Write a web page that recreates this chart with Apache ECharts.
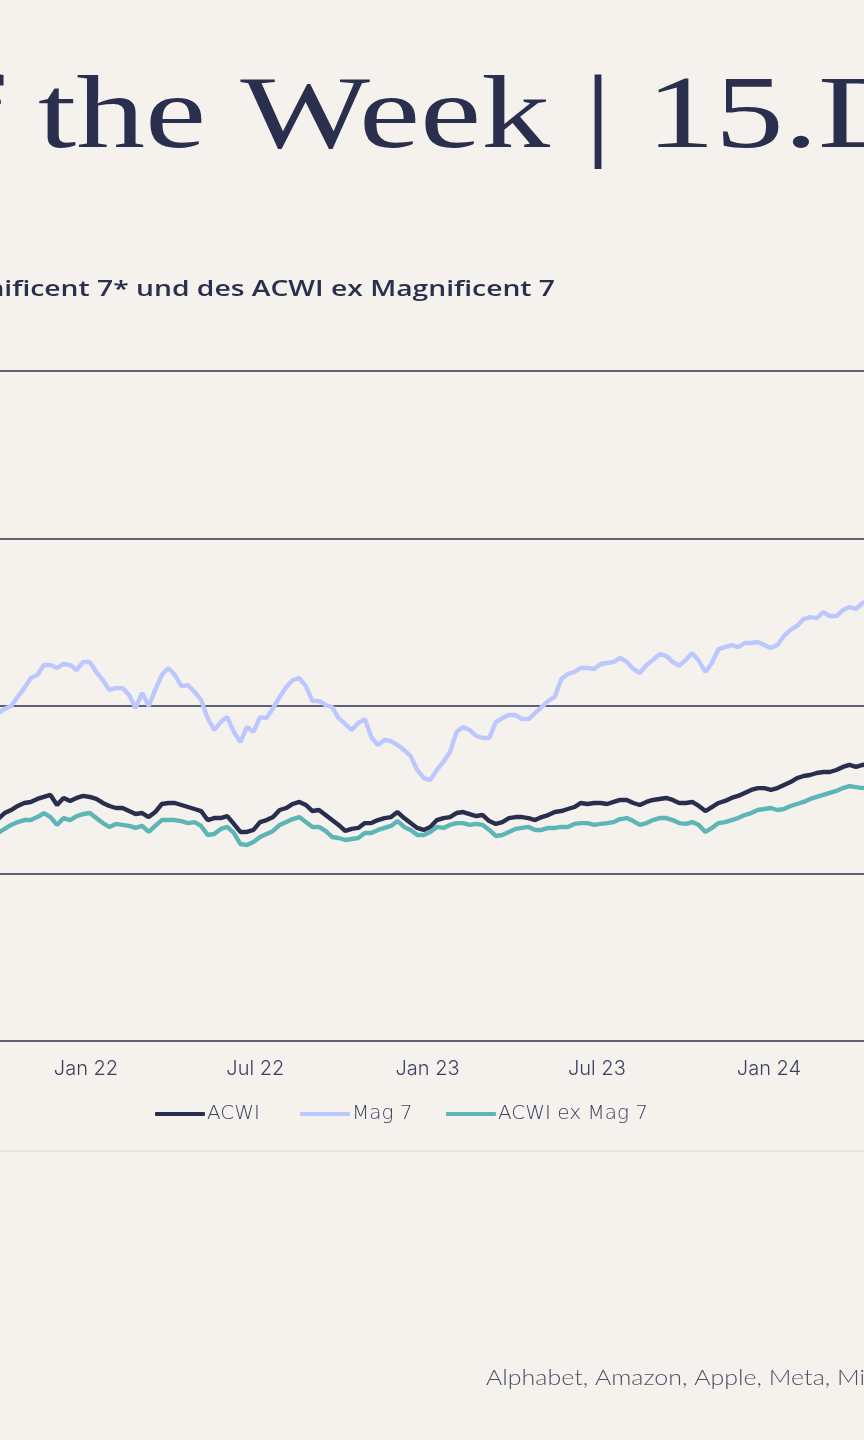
<!DOCTYPE html>
<html><head><meta charset="utf-8">
<script src="https://cdn.jsdelivr.net/npm/echarts@6/dist/echarts.min.js"></script>
<style>html,body{margin:0;padding:0;background:#f5f2ed;overflow:hidden}#c{width:864px;height:1440px}</style>
</head><body><div id="c"></div>
<script>
// ---- data ----
const startDate = '2021-09-22';   // first weekly observation
const weeks = 135;                // weekly observations
const seriesNames = ['ACWI', 'Mag 7', 'ACWI ex Mag 7'];
const tickDates = ['2022-01-01', '2022-07-01', '2023-01-01', '2023-07-01', '2024-01-01'];
const tickLabels = ['Jan 22', 'Jul 22', 'Jan 23', 'Jul 23', 'Jan 24'];
const yTicks = [0, 100, 200, 300, 400];

const acwi = [131.3,132.5,136.1,137.9,140.3,142.1,142.7,144.5,145.7,146.9,
140.9,145.1,143.3,145.1,146.3,145.7,144.5,142.1,140.3,139.1,
139.1,137.3,135.5,136.1,133.7,136.7,141.5,142.1,142.1,140.9,
139.7,138.5,137.3,131.9,133.1,133.1,134.3,129.6,124.8,124.8,
126.0,130.7,131.9,133.7,137.9,139.1,141.5,142.7,140.9,137.3,
137.9,134.9,131.9,129.0,125.4,126.6,127.2,130.1,130.1,131.9,
133.1,133.7,136.7,133.1,130.1,127.2,126.0,127.8,131.9,133.1,
133.7,136.1,136.7,135.5,134.3,134.9,131.3,129.6,130.7,133.1,
133.7,133.7,133.1,131.9,133.7,134.9,136.7,137.3,138.5,139.7,
142.1,141.5,142.1,142.1,141.5,142.7,143.9,143.9,142.1,140.9,
142.7,143.9,144.5,145.1,143.9,142.1,142.1,142.7,140.3,137.3,
139.7,142.1,143.3,145.1,146.3,148.1,149.9,151.0,151.0,149.9,
151.0,152.8,154.6,157.0,158.2,158.8,160.0,160.6,160.6,161.8,
163.6,164.8,163.6,164.8,165.4];

const mag7 = [194.0,195.8,198.2,200.0,205.4,210.7,216.7,218.5,224.5,224.5,
222.7,225.1,224.5,221.5,226.3,226.3,220.3,215.5,209.6,210.7,
210.7,206.6,198.8,207.8,200.0,209.6,218.5,222.7,218.5,211.9,
212.5,208.4,203.6,192.8,185.7,190.4,193.4,184.5,178.5,187.5,
184.5,193.4,192.8,198.8,205.4,211.3,215.5,216.7,211.9,203.0,
203.0,200.6,199.4,192.8,189.3,185.7,189.9,192.2,181.5,176.7,
179.7,179.1,176.7,173.7,170.1,161.8,157.0,155.8,161.8,166.6,
172.5,184.5,187.5,185.7,182.1,180.9,180.9,190.4,192.8,194.6,
194.6,192.2,192.2,195.8,199.4,203.0,205.4,216.1,219.1,220.3,
222.7,222.7,222.1,225.1,225.7,226.3,228.7,226.3,222.1,219.7,
224.5,227.5,231.0,229.9,226.3,223.9,227.5,231.6,226.9,220.3,
225.7,234.0,235.2,236.4,235.2,237.6,237.6,238.2,236.4,234.6,
236.4,241.8,245.4,247.8,251.9,253.1,252.5,256.1,253.7,253.7,
257.3,259.1,257.9,261.5,263.3];

const exMag7 = [123.0,124.2,126.6,129.0,130.7,131.9,131.9,133.7,136.1,133.7,
129.0,133.1,131.9,134.3,135.5,136.1,133.1,130.1,127.8,129.6,
129.0,128.4,127.2,128.4,124.8,128.4,131.9,131.9,131.9,131.3,
130.1,130.7,128.4,123.0,123.6,126.6,127.8,124.2,117.6,117.0,
118.8,121.8,123.6,125.4,129.0,130.7,132.5,133.7,130.7,127.8,
127.8,125.4,121.8,121.2,120.0,120.6,121.2,124.2,124.2,126.0,
127.2,128.4,131.3,127.8,126.0,123.0,123.0,124.8,127.8,127.2,
129.0,130.1,130.1,129.0,129.6,129.0,126.0,122.4,123.0,124.8,
126.6,127.2,127.8,126.0,126.0,127.2,127.2,127.8,127.8,129.6,
130.1,130.1,129.0,129.6,130.1,130.7,132.5,133.1,131.3,129.0,
130.1,131.9,133.1,133.1,131.9,130.1,129.6,130.7,129.0,124.8,
127.2,130.1,130.7,131.9,133.1,134.9,136.1,137.9,138.5,139.1,
137.9,138.5,140.3,141.5,142.7,144.5,145.7,146.9,148.1,149.3,
151.0,152.2,151.6,151.0,151.6];

const titleText = 'Chart of the Week | 15.Dezember 2024';
const subtitleText = 'Wertentwicklung des ACWI, der Magnificent 7* und des ACWI ex Magnificent 7';
const footnoteText = 'Alphabet, Amazon, Apple, Meta, Microsoft, Nvidia, Tesla';

// ---- derived axis categories ----
const DAY = 86400000;
const iso = t => new Date(t).toISOString().slice(0, 10);
const t0 = Date.parse(startDate + 'T00:00:00Z');
const weekDates = [];
for (let i = 0; i < weeks; i++) weekDates.push(iso(t0 + i * 7 * DAY));
const tEnd = t0 + (weeks - 1) * 7 * DAY;
const days = [];
for (let t = t0; t <= tEnd; t += DAY) days.push(iso(t));

// ---- layout ----
const W = 864;
const bg = '#f5f2ed';
const pxPerDay = (769 - 86) / 730;
const gridLeft = 86 - days.indexOf(tickDates[0]) * pxPerDay;
const gridWidth = (days.length - 1) * pxPerDay;

const ink = '#2b2f4e';
const colors = ['#2a2e4e', '#bcc8fd', '#5eb5b5'];

const ctx = document.createElement('canvas').getContext('2d');
function measure(text, size, family, weight) {
  ctx.font = (weight || 'normal') + ' ' + size + 'px ' + family;
  return ctx.measureText(text).width;
}
const serif = '"Liberation Serif", serif';
const sans = 'Lato, "Open Sans", sans-serif';
const axisFont = 'Inter, Lato, sans-serif';
const legendFont = '"DejaVu Sans", sans-serif';

const tSize = 104;
const tScale = 780 / measure('the Week | 15.', tSize, serif);
const tX = 38 - measure('Chart of ', tSize, serif) * tScale;

const sSize = 22;
const sScale = 419 / measure('und des ACWI ex Magnificent 7', sSize, '"Open Sans"', 600);
const sX = 555 - measure(subtitleText, sSize, '"Open Sans"', 600) * sScale;

const fSize = 21;
const fScale = 351 / measure('Alphabet, Amazon, Apple, Meta, ', fSize, sans, 300);

const chart = echarts.init(document.getElementById('c'), null, { renderer: 'canvas' });
const data = [acwi, mag7, exMag7];
const legendLeft = [155, 300, 446];

chart.setOption({
  backgroundColor: bg,
  animation: false,
  grid: { left: gridLeft, width: gridWidth, top: 371, height: 670, containLabel: false, outerBoundsMode: 'none' },
  legend: seriesNames.map((n, i) => ({
    data: [n], left: legendLeft[i], top: 1104, padding: 0, itemWidth: 50, itemHeight: 4, icon: 'roundRect',
    textStyle: { fontFamily: legendFont, fontWeight: 200, fontSize: 20, color: '#3d4160', padding: [0, 0, 0, -3] }
  })),
  xAxis: {
    type: 'category', data: days, boundaryGap: false,
    axisLine: { show: false }, axisTick: { show: false }, splitLine: { show: false },
    axisLabel: {
      interval: (idx, val) => tickDates.indexOf(val) >= 0,
      formatter: val => tickLabels[tickDates.indexOf(val)] || '',
      fontFamily: axisFont, fontWeight: 300, fontSize: 20, color: '#3d4160', margin: 18
    }
  },
  yAxis: {
    type: 'value', min: yTicks[0], max: yTicks[yTicks.length - 1], interval: yTicks[1] - yTicks[0],
    axisLabel: { show: false }, axisLine: { show: false }, axisTick: { show: false },
    splitLine: { lineStyle: { color: '#2b2f4e', width: 1.6 } }
  },
  series: seriesNames.map((n, i) => ({
    name: n, type: 'line', showSymbol: false, symbol: 'none', smooth: false,
    color: colors[i], lineStyle: { color: colors[i], width: 4.4 },
    data: weekDates.map((d, k) => [d, data[i][k]]), z: 3
  })),
  graphic: [
    { type: 'text', x: tX, y: 120, scaleX: tScale, silent: true,
      style: { text: titleText, fontSize: tSize, fontFamily: serif, fill: ink, stroke: bg, lineWidth: 3,
               verticalAlign: 'middle', align: 'left' } },
    { type: 'text', x: sX, y: 290, scaleX: sScale, silent: true,
      style: { text: subtitleText, fontSize: sSize, fontFamily: '"Open Sans"', fontWeight: 600, fill: ink, verticalAlign: 'middle', align: 'left' } },
    { type: 'line', silent: true, shape: { x1: 0, y1: 1151, x2: W, y2: 1151 }, style: { stroke: '#e8e4dd', lineWidth: 2 } },
    { type: 'text', x: 486, y: 1378, scaleX: fScale, silent: true,
      style: { text: footnoteText, fontSize: fSize, fontFamily: sans, fontWeight: 300, fill: '#4a4e68', verticalAlign: 'middle', align: 'left' } }
  ]
});
</script></body></html>
